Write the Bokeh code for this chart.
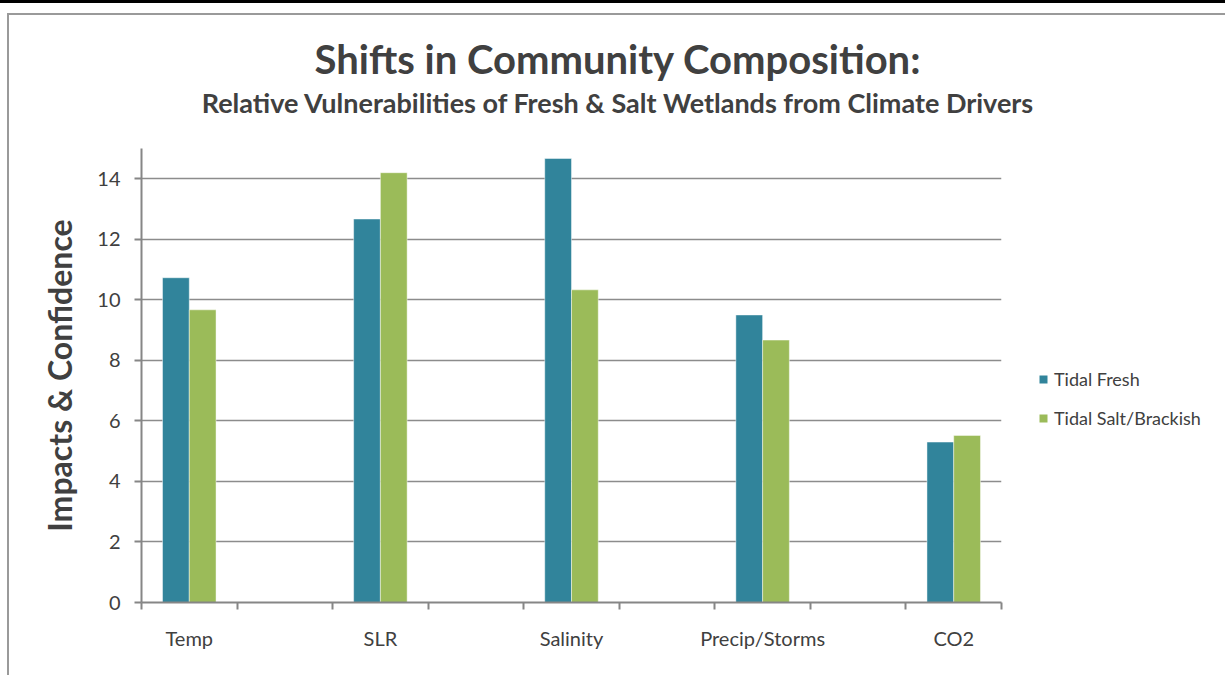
from bokeh.plotting import figure
from bokeh.layouts import column, row
from bokeh.models import (ColumnDataSource, FixedTicker, Range1d, Legend, LegendItem,
                          Div, InlineStyleSheet)
from bokeh.embed import file_html
from bokeh.resources import INLINE

# Climate drivers and their scores for the two wetland types
categories = ["Temp", "SLR", "Salinity", "Precip/Storms", "CO2"]
tidal_fresh = [10.73, 12.67, 14.67, 9.5, 5.3]
tidal_salt = [9.67, 14.2, 10.33, 8.67, 5.52]
y_ticks = [0, 2, 4, 6, 8, 10, 12, 14]
series_names = ["Tidal Fresh", "Tidal Salt/Brackish"]
title_text = "Shifts in Community Composition:"
subtitle_text = "Relative Vulnerabilities of Fresh & Salt Wetlands from Climate Drivers"

FONT = "Lato"
TEXT = "#404040"
FRESH = "#31849B"
SALT = "#9BBB59"
PAGE_W, PAGE_H = 1225, 675
HEADER_H = 128
PLOT_W = 1010

# each driver sits in every other slot, with an empty slot between drivers
n_slots = 2 * len(categories) - 1
centers = [2 * i + 0.5 for i in range(len(categories))]
bar_w = 0.28

src = ColumnDataSource(dict(
    x_fresh=[c - bar_w / 2 for c in centers],
    x_salt=[c + bar_w / 2 for c in centers],
    fresh=tidal_fresh,
    salt=tidal_salt,
))

header = Div(
    text=(f'<div style="width:{PAGE_W - 10}px; padding:35px 0 0 0; margin-left:10px; '
          f'text-align:center; font:bold 40px/48px {FONT}; color:{TEXT}; '
          f'white-space:nowrap">{title_text}</div>'
          f'<div style="width:{PAGE_W - 10}px; padding:4px 0 0 0; margin-left:10px; '
          f'text-align:center; font:bold 27px/32px {FONT}; color:{TEXT}; '
          f'white-space:nowrap">{subtitle_text.replace("&", "&amp;")}</div>'),
    width=PAGE_W, height=HEADER_H, margin=0,
)

p = figure(width=PLOT_W, height=PAGE_H - HEADER_H, output_backend="svg",
           toolbar_location=None, x_range=Range1d(0, n_slots), y_range=Range1d(0, 15),
           title=None, min_border_left=141, min_border_right=PLOT_W - 1001,
           min_border_top=148 - HEADER_H, min_border_bottom=73, margin=0)
p.outline_line_color = None
p.background_fill_color = "white"
p.border_fill_color = "white"

bar_style = dict(width=bar_w, source=src, line_color="white", line_alpha=0.45, line_width=1)
p.vbar(x="x_fresh", top="fresh", fill_color=FRESH, **bar_style)
p.vbar(x="x_salt", top="salt", fill_color=SALT, **bar_style)

# x axis: labels at driver centres, tick marks at slot boundaries
xa = p.xaxis[0]
xa.ticker = FixedTicker(ticks=centers, minor_ticks=list(range(n_slots + 1)))
xa.major_label_overrides = {c: name for c, name in zip(centers, categories)}
xa.major_tick_line_color = None
xa.major_tick_out = 7
xa.major_tick_in = 0
xa.minor_tick_line_color = "#868686"
xa.minor_tick_line_width = 2
xa.minor_tick_out = 7
xa.minor_tick_in = 0
xa.axis_line_color = "#868686"
xa.axis_line_width = 2
xa.major_label_text_font = FONT
xa.major_label_text_font_size = "20px"
xa.major_label_text_color = TEXT
xa.major_label_standoff = 16

ya = p.yaxis[0]
ya.ticker = FixedTicker(ticks=y_ticks)
ya.minor_tick_line_color = None
ya.major_tick_out = 7
ya.major_tick_in = 0
ya.major_tick_line_color = "#868686"
ya.major_tick_line_width = 2
ya.axis_line_color = "#868686"
ya.axis_line_width = 2
ya.major_label_text_font = FONT
ya.major_label_text_font_size = "20px"
ya.major_label_text_color = TEXT
ya.major_label_standoff = 14
ya.axis_label = "Impacts & Confidence"
ya.axis_label_text_font = FONT
ya.axis_label_text_font_size = "32px"
ya.axis_label_text_font_style = "bold"
ya.axis_label_text_color = TEXT
ya.axis_label_standoff = 15

p.xgrid.grid_line_color = None
p.ygrid.ticker = FixedTicker(ticks=y_ticks[1:])
p.ygrid.grid_line_color = "#8c8c8c"
p.ygrid.grid_line_width = 1.5

# legend panel beside the plot; the swatch renderers share the bar data but
# their bars fall outside this panel's ranges, so only the legend shows
lf = figure(width=PAGE_W - PLOT_W, height=PAGE_H - HEADER_H, output_backend="svg",
            toolbar_location=None, x_range=Range1d(-2, -1), y_range=Range1d(0, 1),
            x_axis_type=None, y_axis_type=None, title=None, min_border=0, margin=0)
lf.outline_line_color = None
lf.xgrid.visible = False
lf.ygrid.visible = False
sw_fresh = lf.vbar(x="x_fresh", top="fresh", width=bar_w, source=src,
                   fill_color=FRESH, line_color=None)
sw_salt = lf.vbar(x="x_salt", top="salt", width=bar_w, source=src,
                  fill_color=SALT, line_color=None)
legend = Legend(items=[LegendItem(label=series_names[0], renderers=[sw_fresh]),
                       LegendItem(label=series_names[1], renderers=[sw_salt])],
                location=(28, 173), orientation="vertical",
                label_text_font=FONT, label_text_font_size="18px",
                label_text_color=TEXT, glyph_width=10, glyph_height=10,
                label_height=20, label_standoff=6, spacing=17,
                padding=10, margin=0, border_line_color=None,
                background_fill_alpha=0)
lf.add_layout(legend, "center")

page = column(header, row(p, lf, spacing=0, margin=0), spacing=0, margin=0)
# outer frame of the chart box and the rule across the top of the page
page.stylesheets = [InlineStyleSheet(css="""
:host { position: relative; }
:host::before { content: ""; position: absolute; left: 0; top: 0; right: 0;
                height: 3px; background: #000; z-index: 10; pointer-events: none; }
:host::after { content: ""; position: absolute; left: 7px; top: 13px; right: 0; bottom: 0;
               border-left: 2px solid #9a9a9a; border-top: 2px solid #9a9a9a;
               z-index: 10; pointer-events: none; }
""")]

open("out.html", "w").write(file_html(page, INLINE))
